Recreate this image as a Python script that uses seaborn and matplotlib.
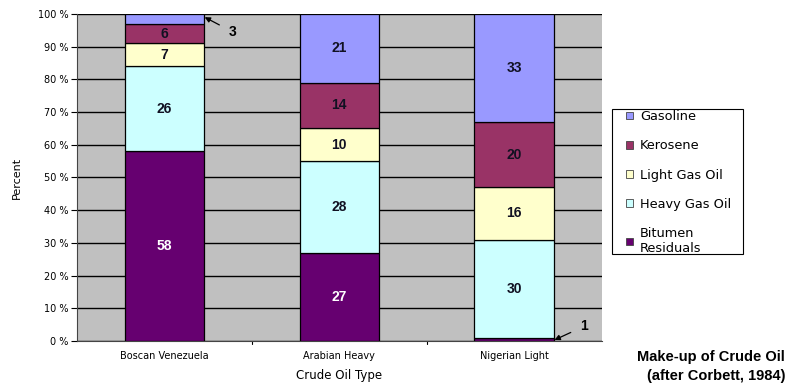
import matplotlib
matplotlib.use("Agg")
import matplotlib.pyplot as plt
import seaborn as sns
import numpy as np
from matplotlib.patches import Patch, Rectangle

categories = ["Boscan Venezuela", "Arabian Heavy", "Nigerian Light"]
series_names = ["Bitumen\nResiduals", "Heavy Gas Oil", "Light Gas Oil", "Kerosene", "Gasoline"]
bitumen = [58, 27, 1]
heavy_gas_oil = [26, 28, 30]
light_gas_oil = [7, 10, 16]
kerosene = [6, 14, 20]
gasoline = [3, 21, 33]
yticks = [0, 10, 20, 30, 40, 50, 60, 70, 80, 90, 100]
ytick_labels = [f"{v} %" for v in yticks]

series = [bitumen, heavy_gas_oil, light_gas_oil, kerosene, gasoline]
colors = ["#660070", "#CCFFFF", "#FFFFCC", "#993366", "#9999FF"]
text_colors = ["white", "#111122", "#111122", "#111122", "#111122"]

sns.set_style("white")
plt.rcParams["font.family"] = ["DejaVu Sans"]
plt.rcParams["text.color"] = "black"
plt.rcParams["axes.labelcolor"] = "black"
plt.rcParams["xtick.color"] = "black"
plt.rcParams["ytick.color"] = "black"

W, H = 789, 387
fig = plt.figure(figsize=(7.89, 3.87), dpi=100)
ax = fig.add_axes([0.0976, 0.119, 0.665, 0.845])
ax.set_facecolor("#C0C0C0")

bottoms = np.zeros(len(categories))
for vals, col, tcol in zip(series, colors, text_colors):
    sns.barplot(x=categories, y=vals, bottom=bottoms, color=col, width=0.455,
                edgecolor="black", linewidth=0.9, ax=ax, saturation=1, zorder=3)
    for i, v in enumerate(vals):
        if v >= 5:
            ax.text(i, bottoms[i] + v / 2, str(v), ha="center", va="center",
                    fontsize=10, fontweight="bold", color=tcol, zorder=5,
                    family="Liberation Sans")
    bottoms = bottoms + np.array(vals)

ax.set_xlim(-0.5, 2.5)
ax.set_ylim(0, 100)
ax.set_yticks(yticks)
ax.set_yticklabels(ytick_labels, fontsize=7)
ax.yaxis.grid(True, color="black", linewidth=1.0, zorder=0)
ax.set_axisbelow(True)
ax.tick_params(axis="y", length=4, width=0.8, left=True, direction="out", pad=2)
ax.tick_params(axis="x", labelsize=7, length=0, pad=7)
ax.set_xticks([0, 1, 2])
ax.set_xticklabels(categories)
for x in [0.5, 1.5]:
    ax.plot([x, x], [0, -1.0], color="black", lw=0.8, clip_on=False)
for s in ["top", "right"]:
    ax.spines[s].set_visible(False)
ax.spines["left"].set_color("#444444")
ax.spines["bottom"].set_color("#444444")
ax.set_ylabel("Percent", fontsize=8, labelpad=12)
ax.set_xlabel("Crude Oil Type", fontsize=8.5, labelpad=6)

ax.annotate("3", xy=(0.23, 99.0), xytext=(0.39, 94.5), fontsize=10, fontweight="bold",
            ha="center", va="center", family="Liberation Sans",
            arrowprops=dict(arrowstyle="-|>", color="black", lw=0.9, mutation_scale=8,
                            shrinkA=5, shrinkB=0))
ax.annotate("1", xy=(2.23, 0.3), xytext=(2.40, 4.5), fontsize=10, fontweight="bold",
            ha="center", va="center", annotation_clip=False, family="Liberation Sans",
            arrowprops=dict(arrowstyle="-|>", color="black", lw=0.9, mutation_scale=8,
                            shrinkA=5, shrinkB=0))

# legend frame drawn separately (tight vertical padding, wider horizontal padding)
fig.patches.append(Rectangle((612 / W, 1 - 254 / H), (743 - 612) / W, (254 - 109) / H,
                             transform=fig.transFigure, facecolor="white",
                             edgecolor="black", linewidth=0.8, zorder=1))
handles = [Patch(facecolor=c, edgecolor="#444444", linewidth=0.6) for c in colors][::-1]
labels = series_names[::-1]
leg = fig.legend(handles, labels, loc="upper left", bbox_to_anchor=(626 / W, 1 - 110 / H),
                 frameon=False, prop={"family": "DejaVu Sans", "size": 9.3},
                 handlelength=0.55, handleheight=0.55, labelspacing=1.26,
                 borderpad=0, handletextpad=0.55, borderaxespad=0)
leg.set_zorder(2)

fig.text(0.995, 0.077, "Make-up of Crude Oil", ha="right", va="center",
         fontsize=10.5, fontweight="bold", family="Liberation Sans")
fig.text(0.995, 0.028, "(after Corbett, 1984)", ha="right", va="center",
         fontsize=10.5, fontweight="bold", family="Liberation Sans")

fig.savefig("out.png", dpi=100)
